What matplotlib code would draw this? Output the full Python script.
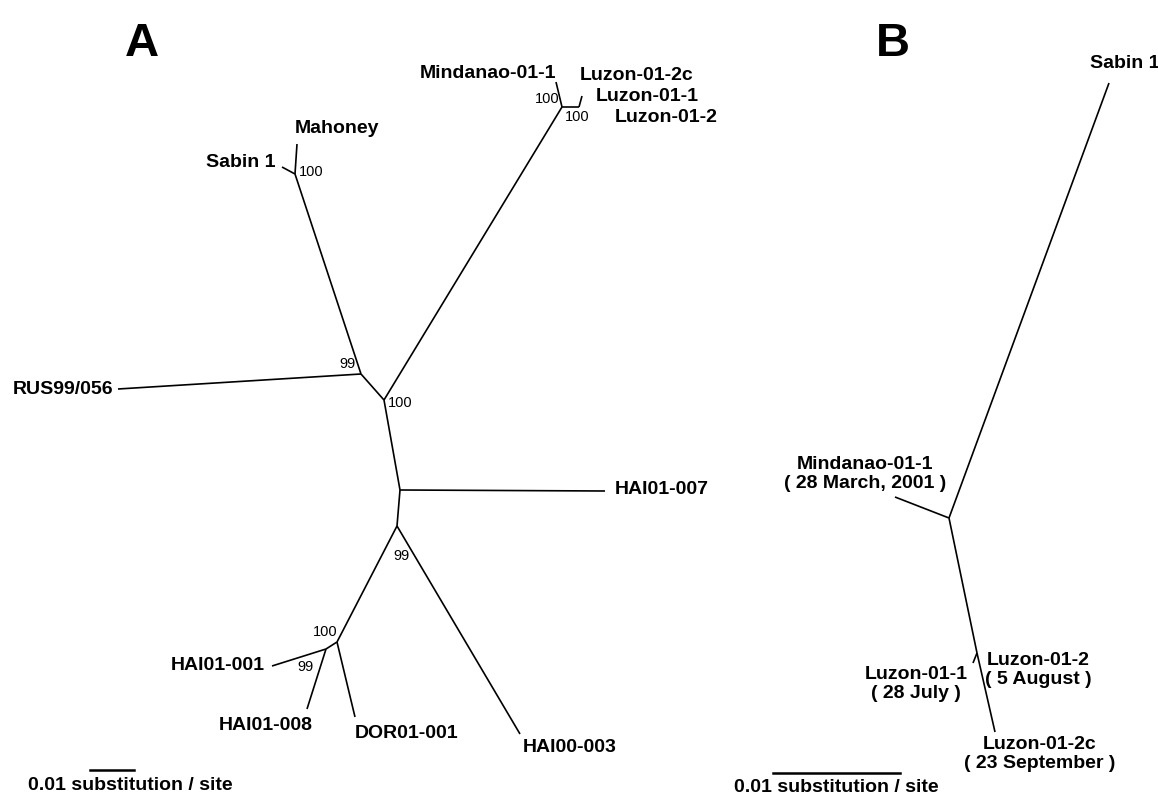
import matplotlib
matplotlib.use("Agg")
import matplotlib.pyplot as plt

plt.rcParams['font.family'] = ['Liberation Sans', 'DejaVu Sans']

# ---- panel A: unrooted tree layout (figure pixel units, y downward) ----
nodes_a = {
    'rus': (118, 389), 'n99a': (361, 374), 'n100a': (384, 400),
    'sab_node': (295, 174), 'mahoney': (297, 144), 'sabin1': (282, 167),
    'min_node': (562, 107), 'mindanao': (556, 82),
    'luz_node': (579, 107), 'luzon': (582, 96),
    'n007': (400, 490), 'hai007': (605, 491),
    'n99b': (397, 526), 'hai003': (520, 734),
    'n100b': (337, 642), 'dor': (355, 717),
    'n99c': (326, 649), 'hai001': (272, 666), 'hai008': (307, 709),
}
edges_a = [
    ('rus', 'n99a'), ('n99a', 'sab_node'), ('sab_node', 'mahoney'),
    ('sab_node', 'sabin1'), ('n99a', 'n100a'), ('n100a', 'min_node'),
    ('min_node', 'mindanao'), ('min_node', 'luz_node'), ('luz_node', 'luzon'),
    ('n100a', 'n007'), ('n007', 'hai007'), ('n007', 'n99b'),
    ('n99b', 'hai003'), ('n99b', 'n100b'), ('n100b', 'dor'),
    ('n100b', 'n99c'), ('n99c', 'hai001'), ('n99c', 'hai008'),
]
# taxon labels: text, x, y, ha
taxa_a = [
    ('Mahoney', 295, 128, 'left'), ('Sabin 1', 276, 162, 'right'),
    ('Mindanao-01-1', 556, 73, 'right'), ('Luzon-01-2c', 580, 75, 'left'),
    ('Luzon-01-1', 596, 96, 'left'), ('Luzon-01-2', 615, 117, 'left'),
    ('RUS99/056', 113, 389, 'right'), ('HAI01-007', 615, 489, 'left'),
    ('HAI00-003', 523, 747, 'left'), ('DOR01-001', 355, 733, 'left'),
    ('HAI01-008', 219, 725, 'left'), ('HAI01-001', 265, 665, 'right'),
]
# bootstrap values: text, x, y, ha
boot_a = [
    ('100', 299, 172, 'left'), ('100', 560, 99, 'right'),
    ('100', 565, 117, 'left'), ('99', 356, 364, 'right'),
    ('100', 388, 403, 'left'), ('99', 402, 556, 'center'),
    ('100', 338, 632, 'right'), ('99', 306, 667, 'center'),
]

# ---- panel B ----
nodes_b = {
    'root': (949, 518), 'sabin1': (1109, 83), 'mindanao': (895, 497),
    'luz_node': (977, 653), 'luz1': (973, 663), 'luz2c': (995, 732),
}
edges_b = [
    ('root', 'sabin1'), ('root', 'mindanao'), ('root', 'luz_node'),
    ('luz_node', 'luz1'), ('luz_node', 'luz2c'),
]
taxa_b = [
    ('Sabin 1', 1090, 63, 'left'),
    ('Mindanao-01-1\n( 28 March, 2001 )', 865, 474, 'center'),
    ('Luzon-01-1\n( 28 July )', 916, 684, 'center'),
    ('Luzon-01-2\n( 5 August )', 1038, 670, 'center'),
    ('Luzon-01-2c\n( 23 September )', 1040, 754, 'center'),
]

# scale bars (0.01 substitution / site): x0, x1, y, label x, label y
scale_bars = [(90, 134, 770, 130, 786), (773, 900, 773, 836, 788)]
panel_letters = [('A', 142, 44), ('B', 893, 44)]


def draw_tree(ax, nodes, edges):
    for a, b in edges:
        (x0, y0), (x1, y1) = nodes[a], nodes[b]
        ax.plot([x0, x1], [y0, y1], color='black', lw=1.2,
                solid_capstyle='butt')


fig = plt.figure(figsize=(11.58, 7.97), dpi=100)
ax = fig.add_axes([0, 0, 1, 1])
ax.set_xlim(0, 1158)
ax.set_ylim(797, 0)
ax.axis('off')

draw_tree(ax, nodes_a, edges_a)
draw_tree(ax, nodes_b, edges_b)

for txt, x, y, ha in taxa_a + taxa_b:
    ax.text(x, y, txt, ha=ha, va='center', fontsize=14,
            fontweight='bold', linespacing=1.2, multialignment='center')

for txt, x, y, ha in boot_a:
    ax.text(x, y, txt, ha=ha, va='center', fontsize=10.5)

for x0, x1, y, lx, ly in scale_bars:
    ax.plot([x0, x1], [y, y], color='black', lw=1.8)
    ax.text(lx, ly, '0.01 substitution / site', ha='center', va='center',
            fontsize=14, fontweight='bold')

for letter, x, y in panel_letters:
    ax.text(x, y, letter, ha='center', va='center', fontsize=34,
            fontweight='bold')

fig.savefig('out.png', dpi=100)
